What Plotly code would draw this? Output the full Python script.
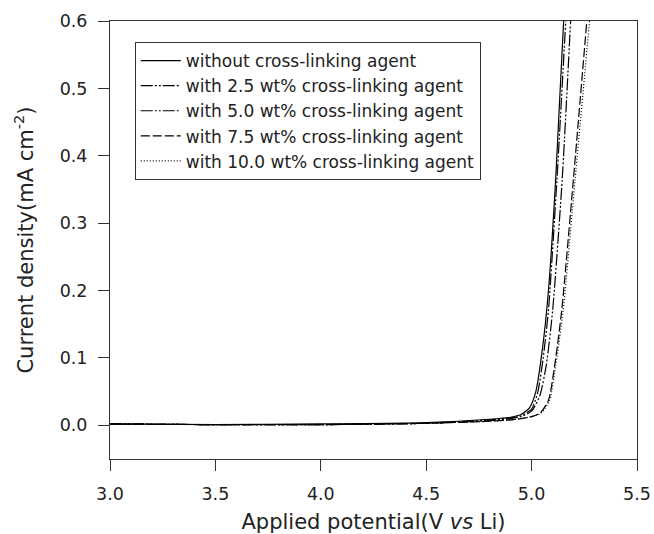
import plotly.graph_objects as go

# potential (V vs Li) and current density (mA cm^-2)
V_0 = [3.0, 3.5, 4.0, 4.5, 4.8, 4.9, 4.95, 4.99, 5.02, 5.05, 5.08, 5.114, 5.152]
I_0 = [0.002, 0.001, 0.002, 0.004, 0.009, 0.012, 0.016, 0.026, 0.05, 0.11, 0.2, 0.364, 0.6]

V_25 = [3.0, 3.5, 4.0, 4.5, 4.8, 4.9, 4.95, 5.0, 5.03, 5.055, 5.08, 5.12, 5.162]
I_25 = [0.002, 0.001, 0.001, 0.003, 0.008, 0.011, 0.014, 0.024, 0.05, 0.1, 0.171, 0.364, 0.6]

V_50 = [3.0, 3.5, 4.0, 4.5, 4.8, 4.9, 4.95, 5.0, 5.04, 5.07, 5.10, 5.145, 5.185]
I_50 = [0.002, 0.001, 0.001, 0.003, 0.007, 0.010, 0.013, 0.021, 0.045, 0.09, 0.171, 0.364, 0.6]

V_75 = [3.0, 3.5, 4.0, 4.5, 4.8, 4.9, 4.95, 5.0, 5.04, 5.08, 5.11, 5.143, 5.198, 5.262]
I_75 = [0.002, 0.001, 0.001, 0.003, 0.006, 0.008, 0.010, 0.013, 0.018, 0.037, 0.09, 0.171, 0.364, 0.6]

V_100 = [3.0, 3.5, 4.0, 4.5, 4.8, 4.9, 4.95, 5.0, 5.045, 5.085, 5.115, 5.15, 5.206, 5.275]
I_100 = [0.002, 0.001, 0.001, 0.003, 0.006, 0.008, 0.010, 0.013, 0.018, 0.037, 0.09, 0.171, 0.364, 0.6]

NAMES = ['without cross-linking agent',
         'with 2.5 wt% cross-linking agent',
         'with 5.0 wt% cross-linking agent',
         'with 7.5 wt% cross-linking agent',
         'with 10.0 wt% cross-linking agent']
DASHES = ['solid', '12px,2px,2px,2px,2px,2px', '12px,2px,2px,2px,2px,2px', '9px,3px', '1px,2px']

X_TICKS = [3.0, 3.5, 4.0, 4.5, 5.0, 5.5]
Y_TICKS = [0.0, 0.1, 0.2, 0.3, 0.4, 0.5, 0.6]

series = [(V_0, I_0), (V_25, I_25), (V_50, I_50), (V_75, I_75), (V_100, I_100)]

fig = go.Figure()
for (v, i), name, dash in zip(series, NAMES, DASHES):
    fig.add_trace(go.Scatter(x=v, y=i, mode='lines', name=name,
                             line=dict(color='black', width=1.2, dash=dash, shape='spline', smoothing=0.6)))

axis_common = dict(showline=True, linecolor='#333', linewidth=1, mirror=True, automargin=False,
                   ticks='outside', ticklen=11, tickcolor='#333', showgrid=False, zeroline=False,
                   tickfont=dict(size=17.5, color='#222'), tickformat='.1f')

fig.update_layout(
    width=654, height=534,
    paper_bgcolor='white', plot_bgcolor='white',
    font=dict(family='DejaVu Sans, Verdana, sans-serif', color='#222'),
    margin=dict(l=110, r=17, t=21, b=75, autoexpand=False),
    showlegend=True,
    legend=dict(x=0.047, y=0.952, xanchor='left', yanchor='top',
                bgcolor='white', bordercolor='#333', borderwidth=1, itemwidth=40,
                font=dict(size=17, color='#222'), tracegroupgap=0),
    xaxis=dict(range=[3.0, 5.5], tickvals=X_TICKS, ticklabelstandoff=8,
               title=dict(text='Applied potential(V <i>vs</i> Li)', font=dict(size=21), standoff=13),
               **axis_common),
    yaxis=dict(range=[-0.05, 0.6], tickvals=Y_TICKS, ticklabelstandoff=7,
               title=dict(text='Current density(mA cm<sup>-2</sup>)', font=dict(size=21), standoff=20),
               **axis_common),
)

# drop the default 8px page margin so the figure sits at the window origin
fig.write_html("out.html", config={'displayModeBar': False},
               post_script="document.body.style.margin='0';")
